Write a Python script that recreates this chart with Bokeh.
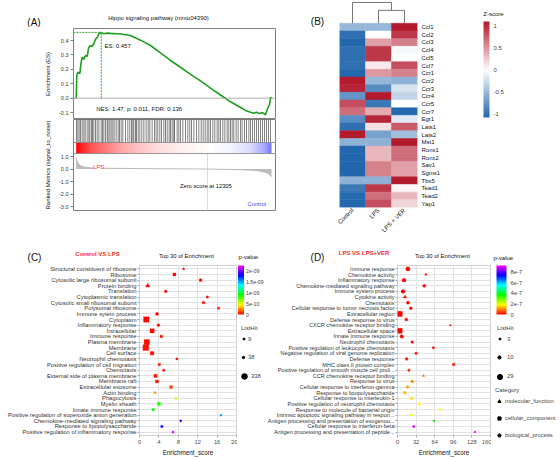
import math
import numpy as np
from bokeh.plotting import figure
from bokeh.models import (Range1d, FactorRange, FixedTicker, LinearColorMapper, ColorBar, Label,
                          Legend, LegendItem, ColumnDataSource, Span, NumeralTickFormatter)
from bokeh.layouts import row, column
from bokeh.transform import transform
from bokeh.core.properties import value
from bokeh.embed import file_html
from bokeh.resources import INLINE

FONT = "Liberation Sans"

# ---------------- Panel A data (GSEA) ----------------
es_rank = [0, 56, 150, 337, 468, 562, 712, 871, 1031, 1181, 1340, 1499, 1649, 1808, 1968, 2118, 2343,
           2586, 2905, 3214, 4151, 5088, 6025, 6962, 7899, 8836, 9773, 10710, 11647, 12584, 13521,
           14458, 15395, 15863, 16332, 16613, 16894, 17175, 17456, 17737, 17850, 17991, 18113, 18207, 18300]
es_value = [0.0, 0.157, 0.18, 0.17, 0.25, 0.285, 0.27, 0.296, 0.29, 0.354, 0.365, 0.36, 0.378, 0.41, 0.42,
            0.447, 0.457, 0.447, 0.452, 0.45, 0.446, 0.435, 0.403, 0.366, 0.315, 0.262, 0.215, 0.165,
            0.12, 0.07, 0.022, -0.025, -0.065, -0.085, -0.098, -0.104, -0.097, -0.106, -0.1, -0.115,
            -0.09, -0.06, -0.045, 0.0, 0.007]
hit_rank = [28, 153, 278, 403, 559, 715, 840, 1028, 1184, 1277, 1433, 1527, 1652, 1808, 1964, 2121, 2339,
            2464, 2589, 2745, 2901, 2995, 3151, 3276, 3432, 3557, 3745, 3932, 4057, 4213, 4369, 4619,
            4838, 5025, 5181, 5306, 5400, 5556, 5650, 5806, 5962, 6149, 6337, 6555, 6743, 6899, 7117,
            7336, 7492, 7648, 7836, 7992, 8210, 8367, 8523, 8710, 8835, 8991, 9147, 9211, 9461, 9617,
            9773, 9992, 10241, 10460, 10647, 10804, 11022, 11272, 11491, 11709, 11897, 12084, 12271,
            12427, 12584, 12802, 12990, 13208, 13364, 13521, 13739, 13927, 14145, 14301, 14457, 14614,
            14770, 14988, 15176, 15395, 15551, 15769, 15957, 16175, 16332, 16519, 16706, 16894, 17081,
            17269, 17456, 17643, 17831, 18018, 18206]
rm_rank = [0, 60, 150, 300, 500, 800, 1200, 2000, 4000, 8000, 12305, 14000, 15500, 16500, 17200, 17700,
           18000, 18200, 18300]
rm_value = [0.95, 0.7, 0.5, 0.33, 0.22, 0.14, 0.1, 0.07, 0.05, 0.02, 0.0, -0.03, -0.06, -0.1, -0.16,
            -0.25, -0.36, -0.5, -0.62]
N_GENES = 18300
ZERO_SCORE = 12305
stats_text = "NES: 1.47, p: 0.011, FDR: 0.136"

# ---------------- Panel B data (heatmap z-scores) ----------------
groups = ["Control", "LPS", "LPS + VER"]
genes = ["Ccl1", "Ccl2", "Ccl3", "Ccl4", "Ccl5", "Ccl7", "Ccr1", "Ccr2", "Ccr3", "Ccr4", "Ccr5", "Ccr7",
         "Egr1", "Lats1", "Lats2", "Mst1", "Runx1", "Runx2", "Sav1", "Sgms1", "Tbx5", "Tead1", "Tead2", "Yap1"]
z_control = [-0.5, -1.0, -1.1, -1.0, -1.0, -1.0, -1.1, 1.1, 1.05, -0.75, 0.85, 0.7, -0.8, -1.0, 1.1,
             -0.55, -1.1, -1.1, -1.1, -1.1, -0.55, -0.95, -1.05, -1.05]
z_lps = [-0.5, 0.0, 0.45, 0.95, 0.95, 0.1, 0.5, -0.5, -0.8, 1.1, -0.95, 0.4, 1.05, 0.15, -0.65,
         -0.55, 0.35, 0.35, 0.6, 0.6, -0.55, 0.95, 0.7, 0.85]
z_ver = [1.1, 0.95, 0.6, -0.05, 0.0, 0.85, 0.6, -0.55, -0.2, -0.3, 0.0, -1.05, -0.15, 0.8, -0.45,
         1.1, 0.7, 0.7, 0.45, 0.45, 1.1, 0.05, 0.35, 0.2]
dend_h1 = 1.68   # merge height of LPS / LPS + VER (in row units above the heatmap)
dend_h2 = 2.71   # merge height of Control / (LPS, LPS + VER)

# ---------------- Panel C data ----------------
c_terms = ["Structural constituent of ribosome", "Ribosome", "Cytosolic large ribosomal subunit",
           "Protein binding", "Translation", "Cytoplasmic translation", "Cytosolic small ribosomal subunit",
           "Polysomal ribosome", "Immune sytem process", "Cytoplasm", "Inflammatory response", "Intracellular",
           "Immune response", "Plasma membrane", "Membrane", "Cell surface", "Neutrophil chemotaxis",
           "Positive regulation of cell migration", "Chemotaxis", "External side of plasma membrane",
           "Membrane raft", "Extracellular exosome", "Actin binding", "Phagocytosis", "Myelin sheath",
           "Innate immune response", "Positive regulation of superoxide anion generation",
           "Chemokine-mediated signaling pathway", "Response to lipopolysaccharide",
           "Positive regulation of inflammatory response"]
c_score = [9.1, 7.2, 12.6, 1.7, 5.4, 14.0, 13.2, 16.3, 3.6, 1.4, 3.9, 2.6, 4.5, 1.5, 1.3, 2.6, 7.7, 4.1,
           5.0, 3.3, 3.6, 6.5, 3.2, 7.5, 4.0, 2.8, 16.8, 8.5, 4.6, 6.9]
c_category = ["MF", "CC", "CC", "MF", "BP", "BP", "CC", "CC", "BP", "CC", "BP", "CC", "BP", "CC", "CC",
              "CC", "BP", "BP", "BP", "CC", "CC", "CC", "MF", "BP", "CC", "BP", "BP", "BP", "BP", "BP"]
c_listhit = [45, 60, 38, 190, 50, 30, 30, 16, 70, 300, 55, 170, 60, 280, 338, 110, 25, 50, 40, 90, 70,
             60, 55, 30, 80, 60, 9, 20, 40, 30]
c_pvalue = [2e-14, 1e-13, 3e-13, 5e-13, 8e-13, 1e-12, 2e-12, 4e-12, 8e-12, 1e-11, 1.2e-11, 1.5e-11,
            2e-11, 2.5e-11, 3e-11, 3.5e-11, 4e-11, 4.5e-11, 5e-11, 5e-11, 5.5e-11, 1.3e-10, 2.5e-10,
            5.6e-10, 8.5e-10, 9.2e-10, 1.55e-9, 1.8e-9, 1.83e-9, 2.2e-9]
c_p_ticks = [0, 5e-10, 1e-9, 1.5e-9, 2e-9]
c_p_labels = ["0", "5e-10", "1e-09", "1.5e-09", "2e-09"]
c_size_legend = [9, 38, 338]

# ---------------- Panel D data ----------------
d_terms = ["Immune response", "Chemokine activity", "Inflammatory response",
           "Chemokine-mediated signaling pathway", "Immune system process", "Cytokine activity", "Chemotaxis",
           "Cellular response to tumor necrosis factor", "Extracellular region", "Defense response to virus",
           "CXCR chemokine receptor binding", "Extracellular space", "Innate immune response",
           "Neutrophil chemotaxis", "Positive regulation of leukocyte chemotaxis",
           "Negative regulation of viral genome replication", "Defense response", "MHC class II protein complex",
           "Positive regulation of smooth muscle cell proli...", "CCR chemokine receptor binding",
           "Response to virus", "Cellular response to interferon-gamma", "Response to lipopolysaccharide",
           "Cellular response to interleukin-1", "Positive regulation of neutrophil chemotaxis",
           "Response to molecule of bacterial origin", "Intrinsic apoptotic signaling pathway in respon...",
           "Antigen processing and presentation of exogenou...", "Cellular response to interferon-beta",
           "Antigen processing and presentation of peptide..."]
d_score = [18.0, 48.9, 11.2, 46.1, 9.6, 12.9, 18.0, 23.0, 3.9, 15.2, 91.0, 3.9, 7.3, 25.3, 61.8, 32.0,
           15.7, 96.6, 19.7, 44.9, 25.3, 17.4, 12.9, 24.2, 37.6, 73.0, 23.6, 62.9, 28.1, 133.1]
d_category = ["BP", "MF", "BP", "BP", "BP", "MF", "BP", "BP", "CC", "BP", "MF", "CC", "BP", "BP", "BP",
              "BP", "BP", "CC", "BP", "MF", "BP", "BP", "BP", "BP", "BP", "BP", "BP", "BP", "BP", "BP"]
d_listhit = [20, 6, 16, 10, 16, 12, 10, 8, 29, 9, 4, 27, 13, 7, 5, 6, 8, 5, 6, 5, 8, 7, 8, 6, 5, 4, 5,
             4, 5, 3]
d_pvalue = [1e-13, 5e-13, 1e-12, 3e-12, 5e-12, 1e-11, 3e-11, 6e-11, 1e-10, 3e-10, 6e-10, 1e-9, 2e-9,
            5e-9, 1e-8, 1.5e-8, 2e-8, 2.5e-8, 3e-8, 7.4e-8, 1.05e-7, 1.15e-7, 1.4e-7, 1.6e-7, 1.8e-7,
            1.87e-7, 1.95e-7, 3.7e-7, 9.1e-7, 9.25e-7]
d_p_ticks = [0, 2e-7, 4e-7, 6e-7, 8e-7]
d_p_labels = ["0", "2e-7", "4e-7", "6e-7", "8e-7"]
d_size_legend = [3, 10, 29]

category_names = {"MF": "molecular_function", "CC": "cellular_component", "BP": "biological_process"}
category_marker = {"MF": "triangle", "CC": "square", "BP": "circle"}

# ---------------- styles ----------------
GREEN = "#1f9e1f"
GRID = "#E3E3E3"
NAN = float("nan")


def interp_palette(anchors, n=256):
    pos = np.linspace(0, 1, len(anchors))
    rgb = np.array([[int(a[i:i + 2], 16) for i in (1, 3, 5)] for a in anchors], dtype=float)
    out = []
    for v in np.linspace(0, 1, n):
        c = [int(round(np.interp(v, pos, rgb[:, k]))) for k in range(3)]
        out.append("#%02x%02x%02x" % tuple(c))
    return out


RAINBOW = interp_palette(["#FF0000", "#FFFF00", "#00FF00", "#00FFFF", "#0000FF", "#FF00FF"])


def make_fig(**kw):
    return figure(output_backend="svg", toolbar_location=None, frame_align=False, **kw)


def style_axis(ax, size="5.8px", color="#333333"):
    ax.major_label_text_font = FONT
    ax.major_label_text_font_size = size
    ax.major_label_text_color = color
    ax.axis_label_text_font = FONT
    ax.axis_label_text_font_style = "normal"
    ax.axis_label_text_color = "#111111"
    ax.minor_tick_line_color = None


def text_label(p, x, y, text, size="6px", color="#111111", align="center", style="normal", bg=None):
    lab = Label(x=x, y=y, text=text, text_font=FONT, text_font_size=size, text_color=color,
                text_align=align, text_baseline="middle", text_font_style=style)
    if bg is not None:
        lab.background_fill_color = bg
    p.add_layout(lab)


def blank_fig(w, h):
    p = make_fig(width=w, height=h, x_range=Range1d(0, w), y_range=Range1d(h, 0),
                 x_axis_location=None, y_axis_location=None,
                 min_border_left=0, min_border_right=0, min_border_top=0, min_border_bottom=0)
    p.grid.visible = False
    p.outline_line_color = None
    return p


# ================= Panel A =================
hA = blank_fig(280, 27)
text_label(hA, 33.5, 22, "(A)", "10px")
text_label(hA, 158, 17, "Hippo signaling pathway (mmu04390)", "6px")

x_range_a = Range1d(-253, 18675)
pA1 = make_fig(width=280, height=92, x_range=x_range_a, y_range=Range1d(-0.148, 0.484),
               x_axis_location=None,
               min_border_left=73, min_border_right=5, min_border_top=1, min_border_bottom=0)
pA1.grid.visible = False
pA1.outline_line_color = "#808080"
axA1 = pA1.yaxis[0]
style_axis(axA1, "5.5px")
axA1.ticker = FixedTicker(ticks=[-0.1, 0.0, 0.1, 0.2, 0.3, 0.4])
axA1.formatter = NumeralTickFormatter(format="0.0")
axA1.axis_label = "Enrichment (ES)"
axA1.axis_label_text_font_size = "6px"
axA1.axis_label_standoff = 5
axA1.major_label_standoff = 2
axA1.major_tick_out = 3
axA1.major_tick_in = 0
axA1.axis_line_color = None
axA1.major_tick_line_color = "#808080"
pA1.add_layout(Span(location=0, dimension="width", line_color="#9a9a9a", line_width=0.8))
peak_i = int(np.argmax(es_value))
peak_rank, peak_es = es_rank[peak_i], es_value[peak_i]
pA1.line([peak_rank, peak_rank], [0, peak_es], line_color=GREEN, line_width=0.9, line_dash="2 1")
pA1.line([x_range_a.start, peak_rank], [peak_es, peak_es], line_color=GREEN, line_width=0.9, line_dash="2 1")
pA1.line(es_rank, es_value, line_color=GREEN, line_width=1.6)
text_label(pA1, peak_rank + 300, 0.361, "ES: %.3f" % peak_es, "6px", align="left")
text_label(pA1, 1875, -0.078, stats_text, "6px", align="left")

RM_TOP, BAR_BOTTOM, GRAD_BOTTOM, RM_BOTTOM = 3.96, 2.12, 1.24, -3.32
pA2 = make_fig(width=280, height=119, x_range=x_range_a, y_range=Range1d(RM_BOTTOM, RM_TOP),
               x_axis_location=None,
               min_border_left=73, min_border_right=5, min_border_top=0, min_border_bottom=28)
pA2.grid.visible = False
pA2.outline_line_color = "#808080"
axA2 = pA2.yaxis[0]
style_axis(axA2, "5.5px")
axA2.ticker = FixedTicker(ticks=[-3, -2, -1, 0, 1])
axA2.formatter = NumeralTickFormatter(format="0.0")
axA2.axis_label = "Ranked Metrics (signal_to_noise)"
axA2.axis_label_text_font_size = "6px"
axA2.axis_label_standoff = 5
axA2.major_label_standoff = 2
axA2.major_tick_out = 3
axA2.major_tick_in = 0
axA2.axis_line_color = None
axA2.major_tick_line_color = "#808080"
pA2.segment(x0=hit_rank, y0=BAR_BOTTOM, x1=hit_rank, y1=RM_TOP, line_color="black", line_alpha=0.55,
            line_width=0.9)
g_frac = [0.0, 0.07, 0.23, 0.40, 0.51, 0.64, 0.69, 0.79, 0.89, 0.97, 1.0]
g_rgb = np.array([(255, 0, 0), (255, 80, 80), (255, 168, 168), (255, 218, 218), (255, 236, 236),
                  (255, 250, 250), (255, 255, 255), (244, 244, 255), (220, 220, 255), (160, 160, 255),
                  (112, 112, 255)], dtype=float)
ncol = 400
fr = (np.arange(ncol) + 0.5) / ncol
img = np.empty((1, ncol), dtype=np.uint32)
view = img.view(dtype=np.uint8).reshape((1, ncol, 4))
for k in range(3):
    view[0, :, k] = np.round(np.interp(fr, g_frac, g_rgb[:, k])).astype(np.uint8)
view[0, :, 3] = 255
pA2.image_rgba(image=[img], x=0, y=GRAD_BOTTOM, dw=N_GENES, dh=BAR_BOTTOM - GRAD_BOTTOM)
pA2.add_layout(Span(location=BAR_BOTTOM, dimension="width", line_color="#808080", line_width=0.8))
pA2.add_layout(Span(location=GRAD_BOTTOM, dimension="width", line_color="#808080", line_width=0.8))
pA2.segment(x0=[ZERO_SCORE], y0=[RM_BOTTOM], x1=[ZERO_SCORE], y1=[GRAD_BOTTOM], line_color="#CFCFCF",
            line_width=0.8)
pA2.varea(x=rm_rank, y1=[0] * len(rm_rank), y2=rm_value, fill_color="#BDBDBD")
pA2.line(rm_rank, rm_value, line_color="#B0B0B0", line_width=0.8)
text_label(pA2, 1593, 0.14, "LPS", "6px", "#FF3030", "left", bg="white")
text_label(pA2, 12150, -1.32, "Zero score at %d" % ZERO_SCORE, "5.8px")
text_label(pA2, 17800, -2.76, "Control", "5.8px", "#3F3FFF", "right")

# ================= Panel B =================
Z_LOW, Z_HIGH = -1.07, 1.11
blue, red = np.array([0x21, 0x66, 0xAC]), np.array([0xB2, 0x18, 0x2B])
rdbu = []
for i in range(256):
    v = Z_LOW + (i + 0.5) / 256 * (Z_HIGH - Z_LOW)
    if v < 0:
        c = 255 + (blue - 255) * (v / Z_LOW)
    else:
        c = 255 + (red - 255) * (v / Z_HIGH)
    rdbu.append("#%02x%02x%02x" % tuple(int(round(t)) for t in c))
z_mapper = LinearColorMapper(palette=rdbu, low=Z_LOW, high=Z_HIGH)

bTag = blank_fig(51, 238)
text_label(bTag, 37, 21, "(B)", "10px")

n_genes = len(genes)
hx, hy, hz = [], [], []
for i, g in enumerate(genes):
    for gname, zl in zip(groups, (z_control, z_lps, z_ver)):
        hx.append(gname)
        hy.append(n_genes - i - 0.5)
        hz.append(zl[i])
heat_src = ColumnDataSource(dict(x=hx, y=hy, z=hz))
Y_TOP_B = n_genes + 2.84
pB = make_fig(width=131, height=238, x_range=FactorRange(factors=groups), y_range=Range1d(0, Y_TOP_B),
              y_axis_location="right",
              min_border_left=8, min_border_right=45, min_border_top=1, min_border_bottom=29)
pB.grid.visible = False
pB.outline_line_color = None
pB.rect(x="x", y="y", width=1, height=1, source=heat_src, fill_color=transform("z", z_mapper),
        line_color=transform("z", z_mapper), line_width=0.5)
leaf = {g: i + 0.5 for i, g in enumerate(groups)}
mid = (leaf["LPS"] + leaf["LPS + VER"]) / 2
top = float(n_genes)
pB.multi_line(xs=[[leaf["LPS"], leaf["LPS"], leaf["LPS + VER"], leaf["LPS + VER"]],
                  [leaf["Control"], leaf["Control"], mid, mid]],
              ys=[[top, top + dend_h1, top + dend_h1, top], [top, top + dend_h2, top + dend_h2, top + dend_h1]],
              line_color="#555555", line_width=0.8)
axBy = pB.yaxis[0]
style_axis(axBy, "6px", "#111111")
axBy.ticker = FixedTicker(ticks=[n_genes - i - 0.5 for i in range(n_genes)])
axBy.major_label_overrides = {n_genes - i - 0.5: g for i, g in enumerate(genes)}
axBy.major_tick_out = 0
axBy.major_tick_in = 0
axBy.axis_line_color = None
axBy.major_label_standoff = 4
axBx = pB.xaxis[0]
style_axis(axBx, "6px", "#111111")
axBx.major_label_orientation = math.pi / 4
axBx.major_tick_out = 0
axBx.major_tick_in = 0
axBx.axis_line_color = None
axBx.major_label_standoff = 2

bLeg = blank_fig(98, 238)
text_label(bLeg, 31, 13, "Z-score", "6px")
zbar = ColorBar(color_mapper=z_mapper, location=(21, 121), width=6, height=96, padding=0, margin=0,
                ticker=FixedTicker(ticks=[-1, -0.5, 0, 0.5, 1]),
                major_label_overrides={-1: "-1", -0.5: "-0.5", 0: "0", 0.5: "0.5", 1: "1"},
                major_label_text_font=FONT, major_label_text_font_size="6px", label_standoff=4,
                major_tick_line_color=None, bar_line_color=None, background_fill_alpha=0,
                border_line_color=None)
bLeg.add_layout(zbar)


# ================= Panels C and D =================
def enrichment_panel(terms, score, category, listhit, pvalue, x_end, x_ticks, p_high, p_ticks, p_labels,
                     size_legend, smin, smax, width, left, legw, label_size,
                     header_w, tag, tag_xy, subtitle, sub_xy, title_x, pv_xy,
                     bar_x, bar_w, bar_font, bar_standoff, size_glyph, size_x, size_standoff, show_category):
    HH = 25
    H = 195
    hdr = blank_fig(header_w, HH)
    text_label(hdr, tag_xy[0], tag_xy[1], tag, "10px")
    text_label(hdr, sub_xy[0], sub_xy[1], subtitle, "6px", "#FF2A2A", style="bold")
    text_label(hdr, title_x, 17, "Top 30 of Enrichment", "5.8px")
    text_label(hdr, pv_xy[0], pv_xy[1], "p-value", "6px", align="left")

    y_rng = FactorRange(factors=list(reversed(terms)), range_padding=0.1, range_padding_units="absolute")
    p = make_fig(width=width, height=H, x_range=Range1d(0, x_end), y_range=y_rng,
                 min_border_left=left, min_border_right=1, min_border_top=2, min_border_bottom=21)
    p.outline_line_color = "#D0D0D0"
    p.xgrid.grid_line_color = GRID
    p.ygrid.grid_line_color = GRID
    ax = p.xaxis[0]
    style_axis(ax, "5.8px", "#4D4D4D")
    ax.ticker = FixedTicker(ticks=x_ticks)
    ax.axis_label = "Enrichment_score"
    ax.axis_label_text_font_size = "6.3px"
    ax.axis_label_standoff = 2
    ax.major_label_standoff = 2
    ax.major_tick_out = 2
    ax.major_tick_in = 0
    ax.axis_line_color = None
    ax.major_tick_line_color = "#AAAAAA"
    ay = p.yaxis[0]
    style_axis(ay, label_size, "#333333")
    ay.major_tick_out = 2
    ay.major_tick_in = 0
    ay.major_label_standoff = 1
    ay.axis_line_color = None
    ay.major_tick_line_color = "#AAAAAA"

    vmin, vmax = min(size_legend), max(size_legend)

    def sz(v):
        return math.sqrt(smin ** 2 + (smax ** 2 - smin ** 2) * (v - vmin) / (vmax - vmin))

    mapper = LinearColorMapper(palette=RAINBOW, low=0, high=p_high)
    src = ColumnDataSource(dict(term=terms, score=score, p=pvalue,
                                shape=[category_marker[c] for c in category],
                                sz=[sz(v) for v in listhit]))
    p.scatter(x="score", y="term", marker="shape", size="sz", source=src,
              fill_color=transform("p", mapper), line_color=transform("p", mapper), line_width=0.3)

    lf = blank_fig(legw, H)
    cbar = ColorBar(color_mapper=mapper, location=(bar_x, 144), width=bar_w, height=49, padding=0, margin=0,
                    ticker=FixedTicker(ticks=p_ticks),
                    major_label_overrides=dict(zip(p_ticks, p_labels)),
                    major_label_text_font=FONT, major_label_text_font_size=bar_font,
                    label_standoff=bar_standoff,
                    major_tick_line_color=None, bar_line_color=None, background_fill_alpha=0,
                    border_line_color=None)
    lf.add_layout(cbar)

    centers = [75.5, 93.5, 113]
    for k, v in enumerate(size_legend):
        g = size_glyph[k]
        r = lf.scatter(x=[NAN], y=[NAN], marker="circle", size=sz(v), color="black")
        h = max(g, 8)
        lg = Legend(items=[LegendItem(label=value(str(v)), renderers=[r])],
                    location=(size_x[k], H - (centers[k] + h / 2)),
                    glyph_width=g, glyph_height=g, label_height=8, label_width=8,
                    label_standoff=size_standoff[k], padding=0, margin=0, spacing=0,
                    border_line_color=None, background_fill_alpha=0,
                    label_text_font=FONT, label_text_font_size="5.8px",
                    title=("ListHit" if k == 0 else None), title_text_font=FONT,
                    title_text_font_size="6px", title_text_font_style="normal", title_standoff=4)
        lf.add_layout(lg)

    if show_category:
        items = []
        for c in ["MF", "CC", "BP"]:
            r = lf.scatter(x=[NAN], y=[NAN], marker=category_marker[c], size=3.2, color="black")
            items.append(LegendItem(label=value(category_names[c]), renderers=[r]))
        lg = Legend(items=items, location=(4, H - 176), glyph_width=8, glyph_height=8, label_height=8,
                    label_width=8, label_standoff=2, padding=0, margin=0, spacing=9,
                    border_line_color=None, background_fill_alpha=0,
                    label_text_font=FONT, label_text_font_size="5.8px",
                    title="Category", title_text_font=FONT, title_text_font_size="6px",
                    title_text_font_style="normal", title_standoff=4)
        lf.add_layout(lg)
    return column(hdr, row(p, lf))


colC = enrichment_panel(c_terms, c_score, c_category, c_listhit, c_pvalue, 20, [0, 4, 8, 12, 16, 20],
                        2.25e-9, c_p_ticks, c_p_labels, c_size_legend, 2.0, 5.8, 237, 139, 27, "5.8px",
                        264, "(C)", (34, 18.5), "Control VS LPS", (97, 15), 186, (238, 18),
                        0.5, 6, "5.2px", 2, [5, 6, 14], [4, 3, 0], [2, 2, -3], False)
colD = enrichment_panel(d_terms, d_score, d_category, d_listhit, d_pvalue, 160, [0, 32, 64, 96, 128, 160],
                        9.3e-7, d_p_ticks, d_p_labels, d_size_legend, 2.0, 5.2, 227, 131, 69, "5.55px",
                        296, "(D)", (53, 18.5), "LPS VS LPS+VER", (99.5, 14), 178, (229, 19),
                        5, 10, "5.8px", 4, [5, 8, 13], [6, 4, 2], [5, 4, 1], True)

layout = column(row(column(hA, pA1, pA2), row(bTag, pB, bLeg)), row(colC, colD))
open("out.html", "w").write(file_html(layout, INLINE))
